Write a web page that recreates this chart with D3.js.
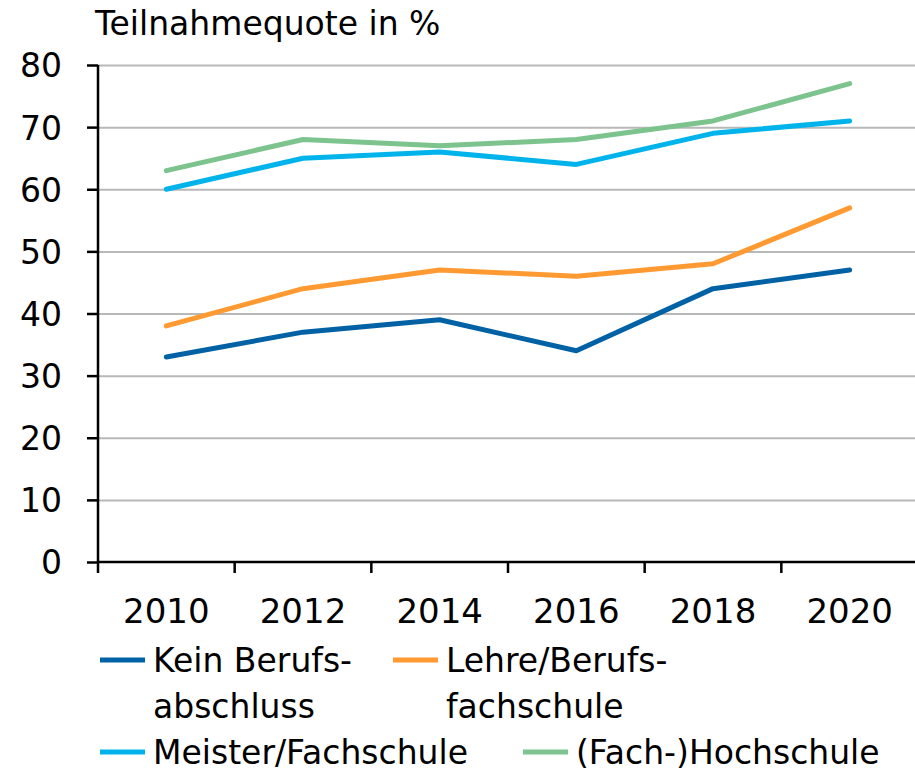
<!DOCTYPE html>
<html>
<head>
<meta charset="utf-8">
<script src="https://cdn.jsdelivr.net/npm/d3@7"></script>
<style>
  body { margin: 0; background: #fff; }
  text { font-family: "DejaVu Sans", sans-serif; fill: #000; }
</style>
</head>
<body>
<svg id="chart" width="915" height="772"></svg>
<script>
  var years = ["2010", "2012", "2014", "2016", "2018", "2020"];
  var yTicks = [0, 10, 20, 30, 40, 50, 60, 70, 80];

  var keinAbschluss = [33, 37, 39, 34, 44, 47];
  var lehre = [38, 44, 47, 46, 48, 57];
  var meister = [60, 65, 66, 64, 69, 71];
  var hochschule = [63, 68, 67, 68, 71, 77];

  var seriesNames = ["Kein Berufs-|abschluss", "Lehre/Berufs-|fachschule", "Meister/Fachschule", "(Fach-)Hochschule"];
  var seriesColors = ["#0062a4", "#ff9a33", "#00b4eb", "#7cc38e"];
  var seriesValues = [keinAbschluss, lehre, meister, hochschule];

  var svg = d3.select("#chart"),
      margin = {top: 65, left: 98},
      width = 820,
      height = 497;

  var x = d3.scaleBand().domain(years).range([0, width]).padding(0),
      y = d3.scaleLinear().domain([0, 80]).range([height, 0]);

  svg.append("text")
      .attr("x", 95)
      .attr("y", 35)
      .style("font-size", "33px")
      .text("Teilnahmequote in %");

  var g = svg.append("g")
      .attr("transform", "translate(" + margin.left + "," + margin.top + ")");

  // gridlines
  g.append("g")
      .attr("class", "grid")
      .call(d3.axisLeft(y).tickValues(yTicks.slice(1)).tickSize(-width).tickFormat(""))
      .call(function(s) {
        s.select(".domain").remove();
        s.selectAll("line").attr("stroke", "#b8b8b8").attr("stroke-width", 2);
      });

  var line = d3.line()
      .x(function(d, i) { return x(years[i]) + x.bandwidth() / 2; })
      .y(function(d) { return y(d); });

  g.selectAll(".series")
      .data(seriesValues)
    .enter().append("path")
      .attr("class", "series")
      .attr("fill", "none")
      .attr("stroke", function(d, i) { return seriesColors[i]; })
      .attr("stroke-width", 5)
      .attr("stroke-linecap", "round")
      .attr("stroke-linejoin", "round")
      .attr("d", line);

  // y axis
  g.append("g")
      .call(d3.axisLeft(y).tickValues(yTicks).tickSize(11).tickPadding(25))
      .call(function(s) {
        s.select(".domain").attr("stroke", "#000").attr("stroke-width", 2.5).attr("d", "M0," + height + "V0");
        s.selectAll(".tick line").attr("stroke", "#000").attr("stroke-width", 2.5);
        s.selectAll("text").style("font-size", "33px").attr("font-family", null).attr("dy", "0.36em");
      });

  // x axis: labels at band centres, ticks at band edges
  var xAxis = g.append("g")
      .attr("transform", "translate(0," + height + ")")
      .call(d3.axisBottom(x).tickSize(0).tickPadding(37))
      .call(function(s) {
        s.select(".domain").attr("stroke", "#000").attr("stroke-width", 2.5).attr("d", "M0,0H" + width);
        s.selectAll("text").style("font-size", "34px").attr("font-family", null);
      });

  xAxis.selectAll(".edge")
      .data(years)
    .enter().append("line")
      .attr("class", "edge")
      .attr("x1", function(d) { return x(d); })
      .attr("x2", function(d) { return x(d); })
      .attr("y1", 0)
      .attr("y2", 11)
      .attr("stroke", "#000")
      .attr("stroke-width", 2.5);

  // legend
  var legendPos = [[100, 660], [393, 660], [100, 752], [523, 752]];
  var legend = svg.selectAll(".legend")
      .data(seriesNames)
    .enter().append("g")
      .attr("class", "legend")
      .attr("transform", function(d, i) { return "translate(" + legendPos[i][0] + "," + legendPos[i][1] + ")"; });

  legend.append("line")
      .attr("x1", 0).attr("x2", 45)
      .attr("stroke", function(d, i) { return seriesColors[i]; })
      .attr("stroke-width", 5);

  legend.append("text")
      .attr("x", 53)
      .attr("y", 12)
      .style("font-size", "33px")
      .selectAll("tspan")
      .data(function(d) { return d.split("|"); })
    .enter().append("tspan")
      .attr("x", 53)
      .attr("dy", function(d, i) { return i ? 46 : 0; })
      .text(function(d) { return d; });
</script>
</body>
</html>
